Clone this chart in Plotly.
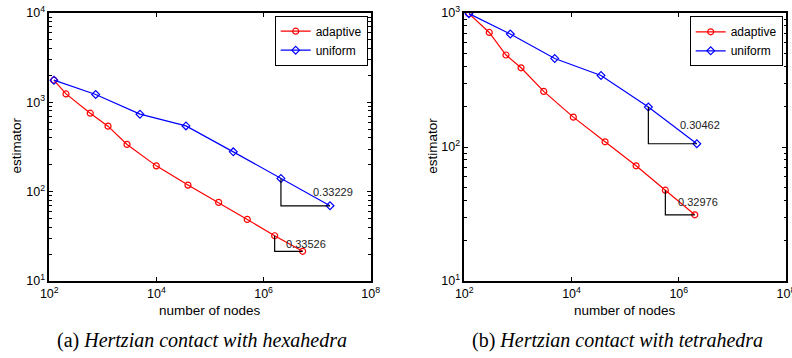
import numpy as np
import plotly.graph_objects as go

# ---- data ----
hex_adapt_nodes = [122, 205, 582, 1247, 2824, 9940, 38800, 145000, 496000, 1.61e6, 5.37e6]
hex_adapt_est = [1770, 1242, 756, 541, 338, 194.5, 118.4, 75.8, 48.9, 32.1, 21.5]
hex_unif_nodes = [122, 734, 4930, 35600, 272000, 2.11e6, 1.74e7]
hex_unif_est = [1770, 1223, 737, 545, 279, 140.7, 69.5]

tet_adapt_nodes = [122, 292, 599, 1143, 3030, 10800, 42200, 160000, 562000, 1.99e6]
tet_adapt_est = [989, 716, 486, 390, 260, 167, 109.3, 72.4, 47.6, 31.2]
tet_unif_nodes = [122, 721, 4860, 35500, 271000, 2.17e6]
tet_unif_est = [989, 697, 458, 342, 198.6, 105.7]

slopes = {"hex_adapt": "0.33526", "hex_unif": "0.33229",
          "tet_adapt": "0.32976", "tet_unif": "0.30462"}

x_tick_exps = [2, 4, 6, 8]
y_tick_exps_left = [1, 2, 3, 4]
y_tick_exps_right = [1, 2, 3]

series_names = ["adaptive", "uniform"]
captions = ["(a) <i>Hertzian contact with hexahedra</i>",
            "(b) <i>Hertzian contact with tetrahedra</i>"]
x_title = "number of nodes"
y_title = "estimator"

RED = "#ff0000"
BLUE = "#0000ff"
FONT = "Liberation Sans, Arial, sans-serif"

W, H = 792, 358


def px(xp):
    return xp / W


def py(yp):
    return 1 - yp / H


def tick_spec(exps):
    return dict(tickmode="array",
                tickvals=[10.0 ** e for e in exps],
                ticktext=["10<sup>%d</sup>" % e for e in exps])


def minor_vals(lo, hi):
    return [m * 10.0 ** k for k in range(lo, hi) for m in range(2, 10)]


fig = go.Figure()


def add_series(xs, ys, name, color, symbol, xa, ya, legend):
    fig.add_trace(go.Scatter(
        x=xs, y=ys, name=name, mode="lines+markers",
        line=dict(color=color, width=1.2),
        marker=dict(symbol=symbol, size=6, color=color,
                    line=dict(color=color, width=1.2)),
        xaxis=xa, yaxis=ya, legend=legend))


def add_triangle(xs, ys, label, xa, ya):
    tx = [xs[-2], xs[-2], xs[-1]]
    ty = [ys[-2], ys[-1], ys[-1]]
    fig.add_trace(go.Scatter(x=tx, y=ty, mode="lines",
                             line=dict(color="black", width=1.2),
                             showlegend=False, hoverinfo="skip",
                             xaxis=xa, yaxis=ya))
    ymid = (np.log10(ys[-2]) + np.log10(ys[-1])) / 2
    fig.add_annotation(x=np.log10(xs[-1]), y=ymid, xref=xa, yref=ya,
                       xanchor="center", yanchor="middle",
                       text=label, showarrow=False, xshift=3,
                       font=dict(family=FONT, size=11, color="#222222"))


# left panel
add_series(hex_adapt_nodes, hex_adapt_est, series_names[0], RED, "circle-open", "x", "y", "legend")
add_series(hex_unif_nodes, hex_unif_est, series_names[1], BLUE, "diamond-open", "x", "y", "legend")
add_triangle(hex_unif_nodes, hex_unif_est, slopes["hex_unif"], "x", "y")
add_triangle(hex_adapt_nodes, hex_adapt_est, slopes["hex_adapt"], "x", "y")

# right panel
add_series(tet_adapt_nodes, tet_adapt_est, series_names[0], RED, "circle-open", "x2", "y2", "legend2")
add_series(tet_unif_nodes, tet_unif_est, series_names[1], BLUE, "diamond-open", "x2", "y2", "legend2")
add_triangle(tet_unif_nodes, tet_unif_est, slopes["tet_unif"], "x2", "y2")
add_triangle(tet_adapt_nodes, tet_adapt_est, slopes["tet_adapt"], "x2", "y2")

left_dom = [px(49.3), px(370.7)]
right_dom = [px(464.3), px(786.0)]
y_dom = [py(281), py(13)]

common = dict(type="log", showgrid=False, zeroline=False, showline=True,
              linecolor="black", linewidth=1.5, mirror="allticks",
              ticks="inside", ticklen=4, tickwidth=1, tickcolor="black",
              automargin=False, ticklabeloverflow="allow",
              tickfont=dict(family=FONT, size=12.5, color="black"))

xcommon = dict(common, range=[2, 8], **tick_spec(x_tick_exps))


def y_minor(lo, hi):
    return dict(ticks="inside", ticklen=2.5, tickwidth=1, tickcolor="black",
                tickmode="array", tickvals=minor_vals(lo, hi), showgrid=False)


legend_common = dict(xanchor="right", yanchor="top",
                     bgcolor="white", bordercolor="black", borderwidth=1,
                     font=dict(family=FONT, size=12), itemwidth=30,
                     tracegroupgap=0)

fig.update_layout(
    width=W, height=H,
    margin=dict(l=0, r=0, t=0, b=0, autoexpand=False),
    paper_bgcolor="white", plot_bgcolor="white",
    font=dict(family=FONT, size=12, color="black"),
    xaxis=dict(xcommon, domain=left_dom, anchor="y"),
    yaxis=dict(common, domain=y_dom, anchor="x", range=[1, 4],
               minor=y_minor(1, 4), **tick_spec(y_tick_exps_left)),
    xaxis2=dict(xcommon, domain=right_dom, anchor="y2"),
    yaxis2=dict(common, domain=y_dom, anchor="x2", range=[1, 3],
                minor=y_minor(1, 3), **tick_spec(y_tick_exps_right)),
    legend=dict(legend_common, x=px(367.7), y=py(15.7)),
    legend2=dict(legend_common, x=px(782.7), y=py(16.3)),
    showlegend=True,
)

# axis titles and captions
for cx, ex in [(209.5, 15.5), (624.7, 431.7)]:
    fig.add_annotation(x=px(cx), y=py(310), xref="paper", yref="paper",
                       xanchor="center", yanchor="middle",
                       text=x_title, showarrow=False,
                       font=dict(family=FONT, size=13.5, color="black"))
    fig.add_annotation(x=px(ex), y=py(146), xref="paper", yref="paper",
                       xanchor="center", yanchor="middle",
                       text=y_title, showarrow=False, textangle=-90,
                       font=dict(family=FONT, size=13.5, color="black"))

for cx, cap in zip([202, 617], captions):
    fig.add_annotation(x=px(cx), y=py(340), xref="paper", yref="paper",
                       xanchor="center", yanchor="middle",
                       text=cap, showarrow=False,
                       font=dict(family="Liberation Serif, Times New Roman, serif",
                                 size=20, color="black"))

# remove the default 8px page margin so the figure fills the 792x358 window
fig.write_html("out.html", config={"displayModeBar": False},
               post_script="document.body.style.margin='0px';")
